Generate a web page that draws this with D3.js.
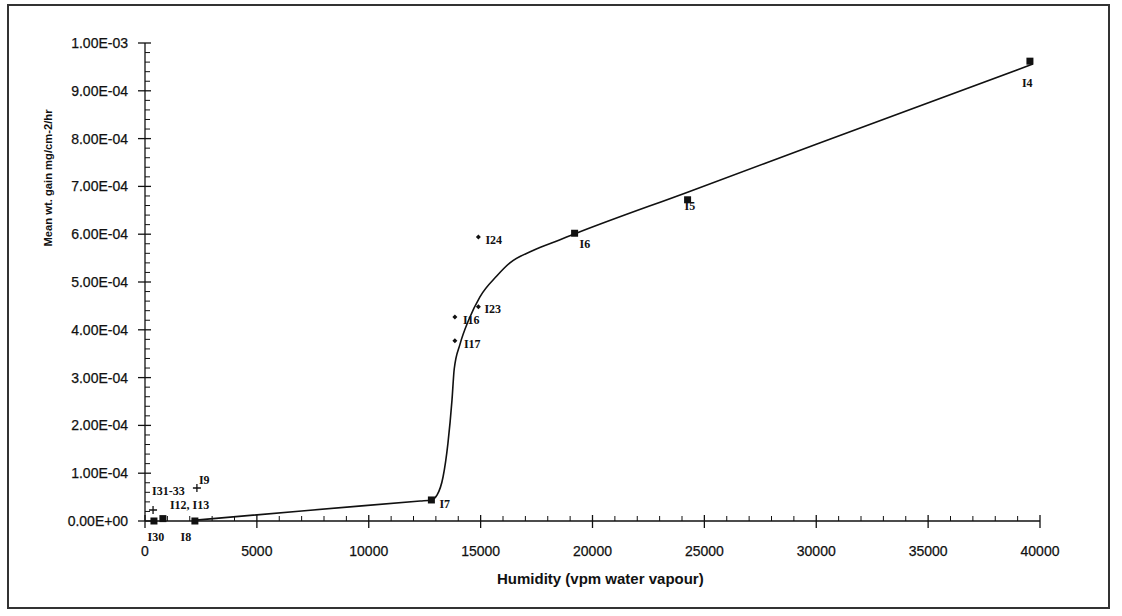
<!DOCTYPE html>
<html>
<head>
<meta charset="utf-8">
<script src="https://cdn.jsdelivr.net/npm/d3@7"></script>
<style>
  html, body { margin: 0; padding: 0; background: #fff; }
  svg { display: block; }
  .tick-label { font-family: "Liberation Sans", Arial, sans-serif; font-size: 14px; fill: #111; stroke: #111; stroke-width: 0.25px; }
  .pt-label { font-family: "Liberation Serif", "Times New Roman", serif; font-weight: bold; font-size: 12px; fill: #111; }
</style>
</head>
<body>
<svg id="chart" width="1122" height="616"></svg>
<script>
// ---- data ----
const pointNames    = ["I30", "I12, I13", "I31-33", "I8", "I9", "I7", "I24", "I23", "I16", "I17", "I6", "I5", "I4"];
const pointHumidity = [400, 800, 360, 2230, 2320, 12800, 14900, 14900, 13850, 13850, 19200, 24250, 39550];
const pointGain     = [0, 0.5e-5, 2.3e-5, 0, 6.9e-5, 4.4e-5, 5.94e-4, 4.48e-4, 4.27e-4, 3.77e-4, 6.02e-4, 6.72e-4, 9.62e-4];
const pointMarker   = ["square", "square", "plus", "square", "plus", "square", "dot", "dot", "dot", "dot", "square", "square", "square"];

const curveHumidity = [2320, 7000, 12300, 12800, 13050, 13320, 13540, 13720, 13820, 14080, 14470, 14970, 15730, 16310, 17340, 18550, 19220, 24250, 30000, 39680];
const curveGain     = [0.2e-5, 2.1e-5, 4.2e-5, 4.4e-5, 5.4e-5, 9.2e-5, 1.63e-4, 2.53e-4, 3.18e-4, 3.70e-4, 4.21e-4, 4.69e-4, 5.13e-4, 5.40e-4, 5.66e-4, 5.885e-4, 6.01e-4, 6.88e-4, 7.88e-4, 9.56e-4];

const xTickValues = [0, 5000, 10000, 15000, 20000, 25000, 30000, 35000, 40000];
const yTickValues = [0, 1e-4, 2e-4, 3e-4, 4e-4, 5e-4, 6e-4, 7e-4, 8e-4, 9e-4, 1e-3];
const yTickLabels = ["0.00E+00", "1.00E-04", "2.00E-04", "3.00E-04", "4.00E-04", "5.00E-04", "6.00E-04", "7.00E-04", "8.00E-04", "9.00E-04", "1.00E-03"];

const xTitle = "Humidity (vpm water vapour)";
const yTitle = "Mean wt. gain mg/cm-2/hr";

// ---- layout (label offsets in px, relative to marker) ----
const labelOffsets = [[2, 20, "middle"], [7, -10, "start"], [-1, -15, "start"], [-9, 20, "middle"], [2, -4, "start"],
                      [8, 8, "start"], [7, 7, "start"], [6, 6, "start"], [8, 7, "start"], [9, 7, "start"],
                      [5, 15, "start"], [-3, 10, "start"], [-8, 26, "start"]];

const svg = d3.select("#chart");

// frame
svg.append("rect").attr("x", 8).attr("y", 5).attr("width", 1101).attr("height", 603)
   .attr("fill", "none").attr("stroke", "#333").attr("stroke-width", 2);

const x = d3.scaleLinear().domain([0, 40000]).range([145, 1040]);
const y = d3.scaleLinear().domain([0, 1e-3]).range([521, 43]);

const ink = "#111";

// x axis
const gx = svg.append("g");
gx.append("line").attr("x1", x(0)).attr("x2", x(40000)).attr("y1", y(0)).attr("y2", y(0))
  .attr("stroke", ink).attr("stroke-width", 1.3);
const xMinor = d3.range(0, 40001, 1000).filter(v => v % 5000 !== 0);
gx.selectAll(".xminor").data(xMinor).join("line")
  .attr("x1", d => x(d)).attr("x2", d => x(d)).attr("y1", y(0)).attr("y2", y(0) - 5)
  .attr("stroke", ink).attr("stroke-width", 1);
gx.selectAll(".xmajor").data(xTickValues).join("line")
  .attr("x1", d => x(d)).attr("x2", d => x(d)).attr("y1", y(0) - 6).attr("y2", y(0) + 7)
  .attr("stroke", ink).attr("stroke-width", 1.3);
gx.selectAll(".xlab").data(xTickValues).join("text")
  .attr("class", "tick-label")
  .attr("x", d => x(d)).attr("y", y(0) + 35)
  .attr("text-anchor", "middle")
  .text(d => String(d));

// y axis
const gy = svg.append("g");
gy.append("line").attr("x1", x(0)).attr("x2", x(0)).attr("y1", y(0)).attr("y2", y(1e-3))
  .attr("stroke", ink).attr("stroke-width", 1.3);
const yMinor = d3.range(0, 51).map(i => i * 2e-5).filter((v, i) => i % 5 !== 0);
gy.selectAll(".yminor").data(yMinor).join("line")
  .attr("x1", x(0)).attr("x2", x(0) + 5).attr("y1", d => y(d)).attr("y2", d => y(d))
  .attr("stroke", ink).attr("stroke-width", 1);
gy.selectAll(".ymajor").data(yTickValues).join("line")
  .attr("x1", x(0) - 7).attr("x2", x(0) + 6).attr("y1", d => y(d)).attr("y2", d => y(d))
  .attr("stroke", ink).attr("stroke-width", 1.3);
gy.selectAll(".ylab").data(yTickValues).join("text")
  .attr("class", "tick-label")
  .attr("x", 128).attr("y", d => y(d) + 5)
  .attr("text-anchor", "end")
  .text((d, i) => yTickLabels[i]);

// titles
svg.append("text")
  .attr("x", 497).attr("y", 584)
  .attr("text-anchor", "start")
  .attr("font-family", "Liberation Sans, Arial, sans-serif")
  .attr("font-size", 15).attr("font-weight", "bold").attr("fill", ink)
  .text(xTitle);
svg.append("text")
  .attr("transform", "translate(52,178) rotate(-90)")
  .attr("text-anchor", "middle")
  .attr("font-family", "Liberation Sans, Arial, sans-serif")
  .attr("font-size", 11).attr("font-weight", "bold").attr("fill", ink)
  .attr("textLength", 137).attr("lengthAdjust", "spacingAndGlyphs")
  .text(yTitle);

// curve
const curvePts = curveHumidity.map((h, i) => [h, curveGain[i]]);
svg.append("path")
  .datum(curvePts)
  .attr("fill", "none").attr("stroke", ink).attr("stroke-width", 1.6)
  .attr("d", d3.line().x(d => x(d[0])).y(d => y(d[1])).curve(d3.curveMonotoneX));

// points
const pts = pointNames.map((n, i) => ({ name: n, h: pointHumidity[i], g: pointGain[i], m: pointMarker[i], off: labelOffsets[i] }));
const gp = svg.append("g");
pts.forEach(p => {
  const px = x(p.h), py = y(p.g);
  if (p.m === "square") {
    gp.append("rect").attr("x", px - 3.5).attr("y", py - 3.5).attr("width", 7).attr("height", 7).attr("fill", ink);
  } else if (p.m === "plus") {
    gp.append("path").attr("d", `M${px - 4},${py}H${px + 4}M${px},${py - 4}V${py + 4}`)
      .attr("stroke", ink).attr("stroke-width", 1.3);
  } else {
    gp.append("path").attr("d", `M${px},${py - 2.5}L${px + 2.5},${py}L${px},${py + 2.5}L${px - 2.5},${py}Z`).attr("fill", ink);
  }
  gp.append("text").attr("class", "pt-label")
    .attr("x", px + p.off[0]).attr("y", py + p.off[1])
    .attr("text-anchor", p.off[2])
    .text(p.name);
});
</script>
</body>
</html>
